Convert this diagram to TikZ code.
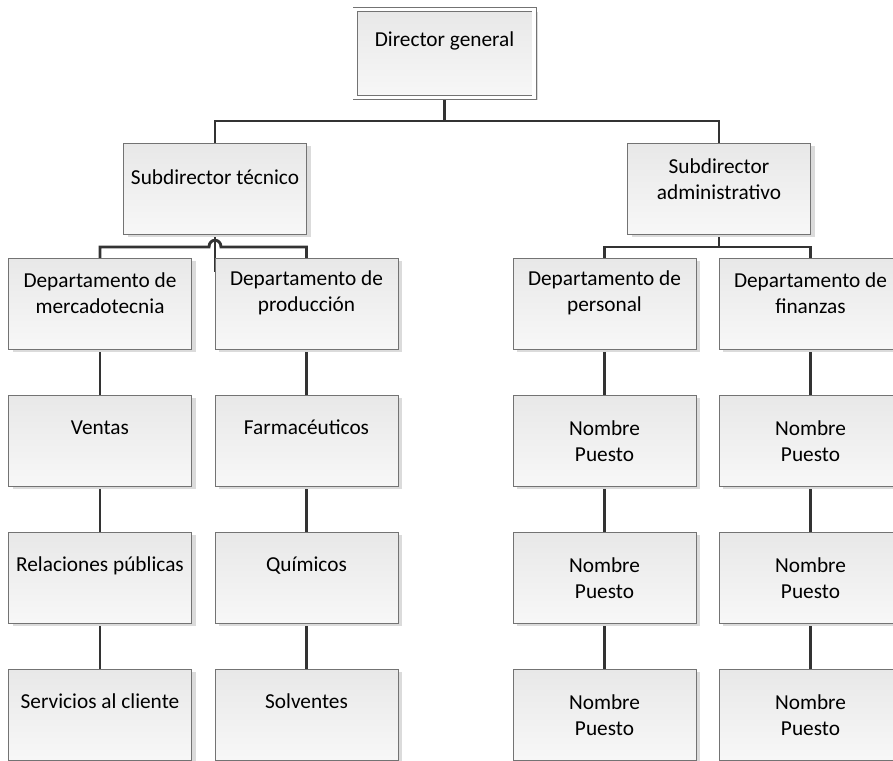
\documentclass[tikz,border=0pt]{standalone}
\usepackage{fontspec}
\setmainfont{Carlito}
\usetikzlibrary{shadows}
\pgfdeclarelayer{background}
\pgfsetlayers{background,main}

\begin{document}
\begin{tikzpicture}[x=1pt,y=-1pt,
  caja/.style={rectangle,draw=black!55,line width=0.9pt,top color=black!9,bottom color=black!3,
    minimum width=183pt,minimum height=91pt,anchor=north,inner sep=0pt,
    drop shadow={shadow xshift=4pt,shadow yshift=-3pt,fill=black!14,opacity=1}},
  texto/.style={align=center,font=\fontsize{21.3}{25.5}\selectfont,inner sep=0pt},
  uno/.style={texto,text height=13pt,text depth=0pt},
  linea/.style={draw=black!80,line width=2.9pt}]

\useasboundingbox (0,0) rectangle (893,760);

% director y subdirectores
\node[caja,minimum width=179pt,minimum height=88pt,double=white,double distance=3.2pt] (dir) at (444.5,9) {};
\node[uno] (dirT) at (444.5,40) {Director general};

\node[caja] (tec) at (215,143) {};
\node[uno] (tecT) at (215,178) {Subdirector técnico};
\node[caja] (admin) at (719,143) {};
\node[texto] (adminT) at (719,179) {Subdirector\\administrativo};

% departamentos
\node[caja] (merc) at (100,258) {};
\node[texto] (mercT) at (100,293) {Departamento de\\mercadotecnia};
\node[caja] (prod) at (306.5,258) {};
\node[texto] (prodT) at (306.5,293) {Departamento de\\producción};
\node[caja] (pers) at (604.5,258) {};
\node[texto] (persT) at (604.5,293) {Departamento de\\personal};
\node[caja] (fin) at (810.5,258) {};
\node[texto] (finT) at (810.5,293) {Departamento de\\finanzas};

% puestos
\node[caja] (ventas) at (100,395) {};
\node[uno] (ventasT) at (100,428) {Ventas};
\node[caja] (relac) at (100,532) {};
\node[uno] (relacT) at (100,565) {Relaciones públicas};
\node[caja] (servi) at (100,669) {};
\node[uno] (serviT) at (100,702) {Servicios al cliente};

\node[caja] (farma) at (306.5,395) {};
\node[uno] (farmaT) at (306.5,428) {Farmacéuticos};
\node[caja] (quimi) at (306.5,532) {};
\node[uno] (quimiT) at (306.5,565) {Químicos};
\node[caja] (solve) at (306.5,669) {};
\node[uno] (solveT) at (306.5,702) {Solventes};

\foreach \i/\y in {1/395,2/532,3/669}{
  \node[caja] (pA\i) at (604.5,\y) {};
  \node[texto] (pA\i T) at (604.5,\y+46) {Nombre\\Puesto};
  \node[caja] (pB\i) at (810.5,\y) {};
  \node[texto] (pB\i T) at (810.5,\y+46) {Nombre\\Puesto};
}

\coordinate (dirJ) at (444.5,121);
\coordinate (tecJ) at (215,272);
\coordinate (hopL) at (209,247);
\coordinate (hopR) at (221,247);
\coordinate (admJ) at (719,247);

\begin{pgfonlayer}{background}
\draw[linea] (dir.south) -- (dirJ) -| (tec.north);
\draw[linea] (dirJ) -| (admin.north);
\draw[linea] (tec.south) -- (tecJ);
\draw[linea] (merc.north) |- (hopL) .. controls +(0,-9) and +(0,-9) .. (hopR) -| (prod.north);
\draw[linea] (admin.south) -- (admJ) -| (pers.north);
\draw[linea] (admJ) -| (fin.north);
\foreach \a/\b in {merc/ventas,ventas/relac,relac/servi,prod/farma,farma/quimi,quimi/solve,
                   pers/pA1,pA1/pA2,pA2/pA3,fin/pB1,pB1/pB2,pB2/pB3}
  \draw[linea] (\a.south) -- (\b.north);
\end{pgfonlayer}

\end{tikzpicture}
\end{document}
